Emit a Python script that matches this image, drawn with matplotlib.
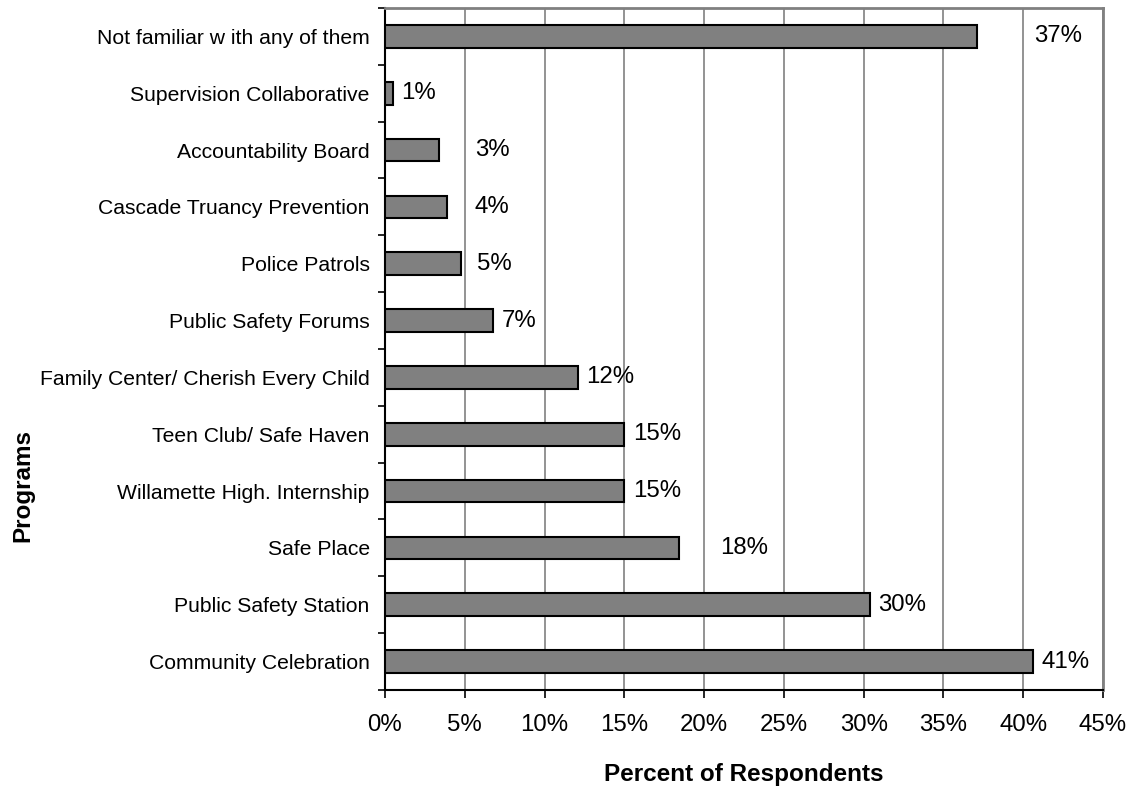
import matplotlib
matplotlib.use("Agg")
import matplotlib.pyplot as plt
import numpy as np
from matplotlib.ticker import MultipleLocator, FuncFormatter

plt.rcParams['font.family'] = ['Liberation Sans', 'DejaVu Sans']

# Data (top to bottom as shown)
programs = [
    "Not familiar w ith any of them",
    "Supervision Collaborative",
    "Accountability Board",
    "Cascade Truancy Prevention",
    "Police Patrols",
    "Public Safety Forums",
    "Family Center/ Cherish Every Child",
    "Teen Club/ Safe Haven",
    "Willamette High. Internship",
    "Safe Place",
    "Public Safety Station",
    "Community Celebration",
]
values = [37.1, 0.5, 3.4, 3.9, 4.75, 6.8, 12.1, 15.0, 15.0, 18.4, 30.4, 40.6]
value_labels = ["37%", "1%", "3%", "4%", "5%", "7%", "12%", "15%", "15%", "18%", "30%", "41%"]
# horizontal offsets of value labels from bar end (points)
label_offsets = [41, 6, 26, 20, 12, 6, 6, 6, 6, 30, 6, 6]

fig = plt.figure(figsize=(11.35, 7.89), dpi=100)
ax = fig.add_axes([0.3392, 0.1255, 0.9718 - 0.3392, 0.9899 - 0.1255])

n = len(programs)
ypos = np.arange(n)[::-1]
ax.barh(ypos, values, height=0.4, color="#808080", edgecolor="black", linewidth=1.5, zorder=3)

for y, v, lab, off in zip(ypos, values, value_labels, label_offsets):
    ax.annotate(lab, xy=(v, y), xytext=(off, 0), textcoords="offset points",
                va="center", ha="left", fontsize=17.3, zorder=4)

ax.set_xlim(0, 45)
ax.set_ylim(-0.5, n - 0.5)
ax.xaxis.set_major_locator(MultipleLocator(5))
ax.xaxis.set_major_formatter(FuncFormatter(lambda x, p: f"{int(round(x))}%"))
ax.grid(axis="x", color="#808080", linewidth=1.2, zorder=0)

ax.set_yticks(ypos)
ax.set_yticklabels(programs, fontsize=15.2)
ax.set_yticks(np.arange(-0.5, n, 1.0), minor=True)
ax.tick_params(axis="y", which="major", length=0, pad=11)
ax.tick_params(axis="y", which="minor", length=5, width=1.2, direction="out")
ax.tick_params(axis="x", which="major", length=6, width=1.2, direction="out", labelsize=17.3, pad=11)

for s in ["top", "right"]:
    ax.spines[s].set_color("#808080")
    ax.spines[s].set_linewidth(2)
for s in ["left", "bottom"]:
    ax.spines[s].set_color("black")
    ax.spines[s].set_linewidth(1.5)

ax.set_xlabel("Percent of Respondents", fontsize=17.5, fontweight="bold", labelpad=20)
fig.text(0.02, 0.385, "Programs", rotation=90, fontsize=17.5,
         fontweight="bold", ha="center", va="center")

fig.savefig("out.png", dpi=100, facecolor="white")
